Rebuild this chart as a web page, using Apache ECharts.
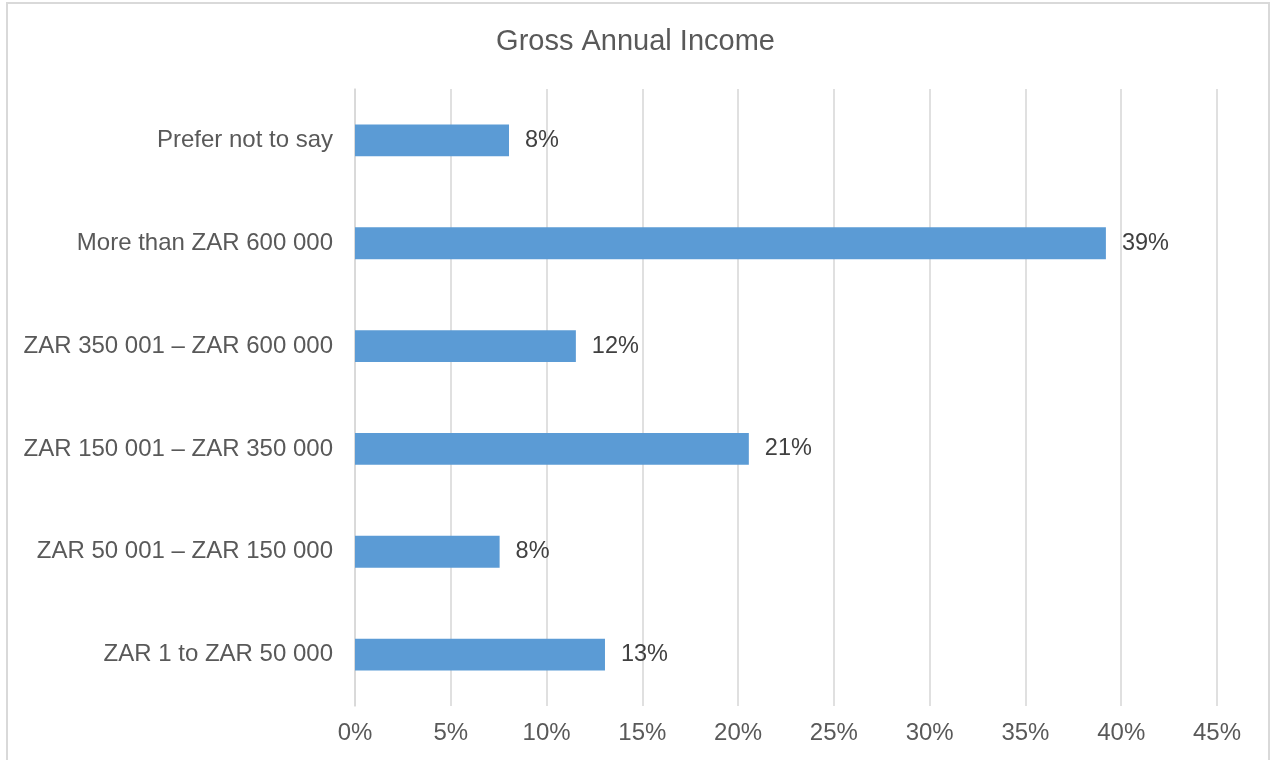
<!DOCTYPE html>
<html>
<head>
<meta charset="utf-8">
<script src="https://cdn.jsdelivr.net/npm/echarts@6/dist/echarts.min.js"></script>
<style>
html,body{margin:0;padding:0;background:#fff;}
#c{width:1271px;height:760px;}
</style>
</head>
<body>
<div id="c"></div>
<script>
var categories = ["ZAR 1 to ZAR 50 000", "ZAR 50 001 \u2013 ZAR 150 000", "ZAR 150 001 \u2013 ZAR 350 000", "ZAR 350 001 \u2013 ZAR 600 000", "More than ZAR 600 000", "Prefer not to say"];
var values = [13.05, 7.55, 20.56, 11.53, 39.2, 8.04];
var xTicks = [0, 5, 10, 15, 20, 25, 30, 35, 40, 45];

var chart = echarts.init(document.getElementById('c'));
var font = "Liberation Sans, Arial, sans-serif";
chart.setOption({
  animation: false,
  title: {
    text: "Gross Annual Income",
    left: 'center',
    top: 22,
    textStyle: {fontFamily: font, fontSize: 29, fontWeight: 'normal', color: '#595959'}
  },
  graphic: [{
    type: 'rect',
    shape: {x: 7, y: 3, width: 1262, height: 800},
    style: {fill: 'none', stroke: '#d9d9d9', lineWidth: 2},
    silent: true
  }],
  grid: {left: 355, right: 54, top: 89, bottom: 54, containLabel: false},
  xAxis: {
    type: 'value',
    min: xTicks[0],
    max: xTicks[xTicks.length - 1],
    interval: 5,
    axisLine: {show: false},
    axisTick: {show: false},
    splitLine: {show: true, lineStyle: {color: '#d9d9d9', width: 1.6}},
    axisLabel: {
      formatter: function (v) { return v + '%'; },
      fontFamily: font, fontSize: 24, color: '#595959', margin: 15
    }
  },
  yAxis: {
    type: 'category',
    data: categories,
    axisLine: {show: true, lineStyle: {color: '#d9d9d9', width: 1.6}},
    axisTick: {show: false},
    axisLabel: {fontFamily: font, fontSize: 24, color: '#595959', margin: 22}
  },
  series: [{
    type: 'bar',
    data: values,
    barWidth: '31%',
    itemStyle: {color: '#5B9BD5'},
    label: {
      show: true,
      position: 'right',
      distance: 16,
      formatter: function (p) { return Math.round(p.value) + '%'; },
      fontFamily: font, fontSize: 23.5, color: '#404040'
    }
  }]
});
</script>
</body>
</html>
